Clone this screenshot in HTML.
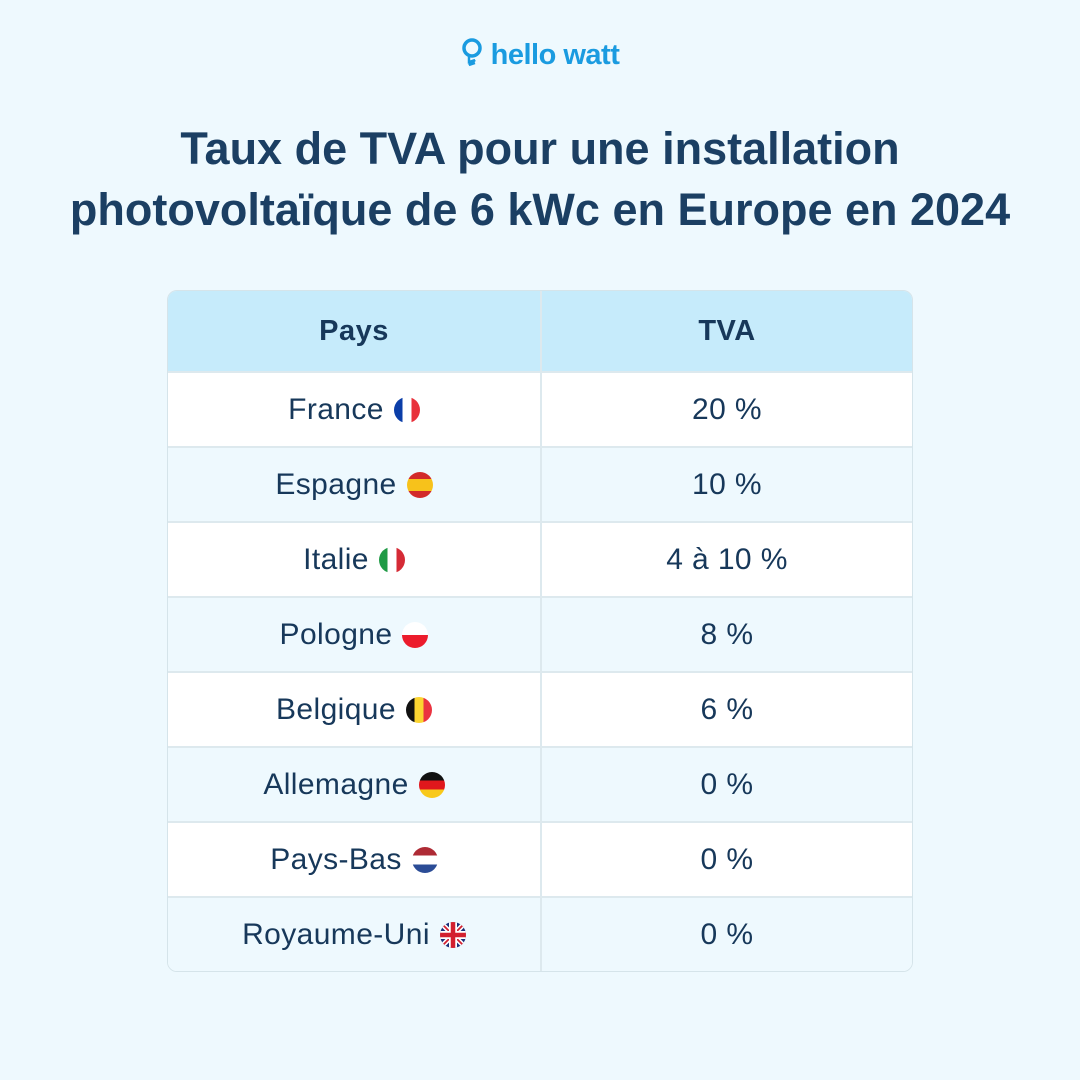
<!DOCTYPE html>
<html><head><meta charset="utf-8"><style>
body{margin:0;width:1080px;height:1080px;background:#eef9fe;font-family:"Liberation Sans",sans-serif;color:#17385a;position:relative;overflow:hidden}
.logo{position:absolute;top:38px;left:0;width:1080px;text-align:center;color:#1a9be0;font-weight:bold;font-size:29px;letter-spacing:-0.5px}
.title{position:absolute;top:118px;left:0;width:1080px;text-align:center;font-weight:bold;font-size:45px;line-height:61px;color:#1b3f63;letter-spacing:0px}
.tbl{position:absolute;left:167px;top:290px;width:744px;height:680px;border:1px solid #d5e4ea;border-radius:10px;overflow:hidden;background:#fff}
.row{position:absolute;left:0;width:744px;height:75px;border-top:2px solid #dde9ee;box-sizing:border-box;display:flex;font-size:30px;letter-spacing:0.4px}
.row div{display:flex;align-items:center;justify-content:center}
.c1{width:373px;border-right:2px solid #dde9ee}
.c2{width:371px}
.hd{top:0;height:80px;background:#c6ebfb;border-top:none;font-weight:bold;font-size:29px;letter-spacing:0.5px}
.alt{background:#eef9fe}
.f{display:inline-block;width:26px;height:26px;border-radius:50%;overflow:hidden;margin-left:10px}
</style></head><body>
<div class="logo"><svg width="22" height="30" viewBox="0 0 22 30" style="vertical-align:-4px;margin-right:8px"><circle cx="11" cy="10" r="8" fill="none" stroke="#1a9be0" stroke-width="3.5"/><path d="M8 18 L8 24 L14 22 L8 27 L14 25" fill="none" stroke="#1a9be0" stroke-width="2.5"/></svg>hello watt</div>
<div class="title">Taux de TVA pour une installation<br>photovoltaïque de 6 kWc en Europe en 2024</div>
<div class="tbl">
<div class="row hd"><div class="c1">Pays</div><div class="c2">TVA</div></div>
<div class="row" style="top:80px"><div class="c1">France<span class="f" style="background:linear-gradient(90deg,#0b3ea8 33%,#fff 33% 67%,#e8313b 67%)"></span></div><div class="c2">20 %</div></div>
<div class="row alt" style="top:155px"><div class="c1">Espagne<span class="f" style="background:linear-gradient(180deg,#d22a2a 27%,#f7c21b 27% 73%,#d22a2a 73%)"></span></div><div class="c2">10 %</div></div>
<div class="row" style="top:230px"><div class="c1">Italie<span class="f" style="background:linear-gradient(90deg,#1f9a45 33%,#fff 33% 67%,#d52b36 67%)"></span></div><div class="c2">4 à 10 %</div></div>
<div class="row alt" style="top:305px"><div class="c1">Pologne<span class="f" style="background:linear-gradient(180deg,#fff 50%,#ec1c2c 50%)"></span></div><div class="c2">8 %</div></div>
<div class="row" style="top:380px"><div class="c1">Belgique<span class="f" style="background:linear-gradient(90deg,#111 33%,#fbd431 33% 67%,#ea3340 67%)"></span></div><div class="c2">6 %</div></div>
<div class="row alt" style="top:455px"><div class="c1">Allemagne<span class="f" style="background:linear-gradient(180deg,#111 33%,#e0171c 33% 67%,#f8c91b 67%)"></span></div><div class="c2">0 %</div></div>
<div class="row" style="top:530px"><div class="c1">Pays-Bas<span class="f" style="background:linear-gradient(180deg,#ae2b35 33%,#fff 33% 67%,#2b4c96 67%)"></span></div><div class="c2">0 %</div></div>
<div class="row alt" style="top:605px"><div class="c1">Royaume-Uni<span class="f"><svg width="26" height="26" viewBox="0 0 26 26"><rect width="26" height="26" fill="#1a2f7a"/><path d="M0 0L26 26M26 0L0 26" stroke="#fff" stroke-width="5"/><path d="M0 0L26 26M26 0L0 26" stroke="#d3202f" stroke-width="1.8"/><path d="M13 0V26M0 13H26" stroke="#fff" stroke-width="8"/><path d="M13 0V26M0 13H26" stroke="#d3202f" stroke-width="4.5"/></svg></span></div><div class="c2">0 %</div></div>
</div>
</body></html>
